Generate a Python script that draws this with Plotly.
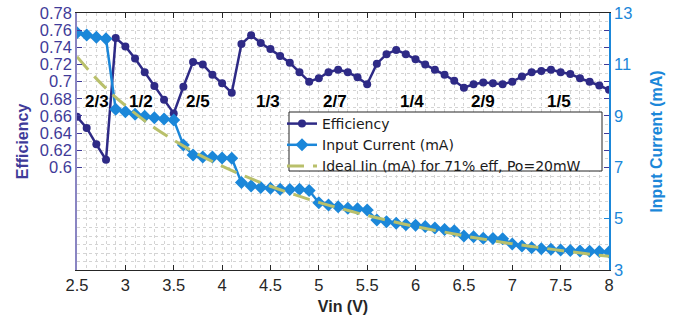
import plotly.graph_objects as go

vin = [round(2.5 + 0.1 * i, 1) for i in range(56)]

efficiency = [0.659, 0.646, 0.627, 0.609, 0.751, 0.741, 0.727, 0.711, 0.695, 0.679,
              0.663, 0.694, 0.723, 0.720, 0.708, 0.698, 0.687, 0.744, 0.754, 0.745,
              0.738, 0.730, 0.722, 0.711, 0.700, 0.704, 0.711, 0.714, 0.711, 0.705,
              0.697, 0.721, 0.732, 0.737, 0.732, 0.726, 0.720, 0.714, 0.708, 0.701,
              0.693, 0.697, 0.699, 0.698, 0.697, 0.700, 0.706, 0.711, 0.7125, 0.714,
              0.711, 0.709, 0.704, 0.700, 0.6955, 0.6905]

input_current = [12.23, 12.14, 12.06, 12.00, 9.25, 9.16, 9.06, 8.98, 8.92, 8.88,
                 8.84, 7.86, 7.47, 7.40, 7.40, 7.36, 7.35, 6.40, 6.27, 6.21,
                 6.18, 6.14, 6.13, 6.14, 6.09, 5.62, 5.53, 5.46, 5.40, 5.38,
                 5.33, 4.95, 4.88, 4.82, 4.76, 4.74, 4.69, 4.63, 4.58, 4.53,
                 4.32, 4.29, 4.24, 4.23, 4.22, 4.01, 3.93, 3.87, 3.83, 3.81,
                 3.78, 3.76, 3.74, 3.73, 3.72, 3.70]

ideal_vin = [2.5, 2.75, 3.0, 3.25, 3.5, 3.75, 4.0, 4.25, 4.5, 4.75, 5.0, 5.25,
             5.5, 5.75, 6.0, 6.25, 6.5, 6.75, 7.0, 7.25, 7.5, 7.75, 8.0]
ideal_current = [11.3, 10.25, 9.4, 8.67, 8.05, 7.51, 7.04, 6.63, 6.26, 5.93, 5.63, 5.37,
                 5.12, 4.90, 4.69, 4.51, 4.33, 4.17, 4.02, 3.89, 3.76, 3.64, 3.53]

ratio_labels = ["2/3", "1/2", "2/5", "1/3", "2/7", "1/4", "2/9", "1/5"]
ratio_x = [2.71, 3.16, 3.75, 4.47, 5.17, 5.96, 6.70, 7.48]
ratio_y = 0.6765

eff_ticks = [0.6, 0.62, 0.64, 0.66, 0.68, 0.7, 0.72, 0.74, 0.76, 0.78]
eff_tick_text = ["0.6", "0.62", "0.64", "0.66", "0.68", "0.7", "0.72", "0.74", "0.76", "0.78"]
cur_ticks = [3, 5, 7, 9, 11, 13]
x_ticks = [2.5, 3, 3.5, 4, 4.5, 5, 5.5, 6, 6.5, 7, 7.5, 8]
x_tick_text = ["2.5", "3", "3.5", "4", "4.5", "5", "5.5", "6", "6.5", "7", "7.5", "8"]

EFF_C = "#2e2a86"
CUR_C = "#1b87d9"
IDEAL_C = "#b9c06b"
LEFT_AX_C = "#3f3b99"
GRID_C = "#d4d4d4"
FONT = "Liberation Sans, Arial, Helvetica, sans-serif"
LEG_FONT = "DejaVu Sans, Liberation Sans, Arial, sans-serif"

W, H = 683, 325
PLOT_X0, PLOT_X1, PLOT_Y0, PLOT_Y1 = 77, 609, 13, 270   # plot area in pixels
L, T = PLOT_X0, PLOT_Y0
R, B = W - PLOT_X1, H - PLOT_Y1
PW, PH = PLOT_X1 - PLOT_X0, PLOT_Y1 - PLOT_Y0


def px_x(p):
    return (p - PLOT_X0) / PW


def px_y(p):
    return 1 - (p - PLOT_Y0) / PH


fig = go.Figure()

fig.add_trace(go.Scatter(
    x=vin, y=efficiency, yaxis="y", mode="lines+markers", name="Efficiency",
    line=dict(color=EFF_C, width=2.5),
    marker=dict(symbol="circle", size=8, color=EFF_C),
))
fig.add_trace(go.Scatter(
    x=vin, y=input_current, yaxis="y2", mode="lines+markers", name="Input Current (mA)",
    line=dict(color=CUR_C, width=2.5),
    marker=dict(symbol="diamond", size=10, color=CUR_C),
))
fig.add_trace(go.Scatter(
    x=ideal_vin, y=ideal_current, yaxis="y2", mode="lines",
    name="Ideal Iin (mA) for 71% eff, Po=20mW",
    line=dict(color=IDEAL_C, width=3, dash="17px,9px", shape="spline"),
))
# host for mirrored efficiency ticks on the right side
fig.add_trace(go.Scatter(x=[None], y=[None], yaxis="y3", showlegend=False, hoverinfo="skip"))

for lab, xv in zip(ratio_labels, ratio_x):
    fig.add_annotation(x=xv, y=ratio_y, xref="x", yref="y", text="<b>%s</b>" % lab,
                       showarrow=False, font=dict(size=17, color="black", family=FONT))

# legend frame
fig.add_shape(type="rect", xref="paper", yref="paper",
              x0=px_x(289), x1=px_x(602), y0=px_y(171), y1=px_y(112),
              line=dict(color="#262626", width=1), fillcolor="white", layer="above")

fig.update_layout(
    width=W, height=H,
    margin=dict(l=L, r=R, t=T, b=B, autoexpand=False),
    paper_bgcolor="white", plot_bgcolor="white",
    font=dict(family=FONT, size=16, color="#262626"),
    showlegend=True,
    legend=dict(
        x=px_x(282), y=px_y(108), xanchor="left", yanchor="top",
        bgcolor="rgba(0,0,0,0)", borderwidth=0,
        font=dict(size=14, color="#1a1a1a", family=LEG_FONT),
        traceorder="normal", tracegroupgap=0, itemwidth=30,
    ),
    xaxis=dict(
        range=[2.5, 8], tickmode="array", tickvals=x_ticks, ticktext=x_tick_text,
        ticks="inside", ticklen=5, tickcolor="#262626", showline=True, linecolor="#262626",
        linewidth=1, mirror="ticks", zeroline=False, automargin=False,
        showgrid=True, gridcolor=GRID_C, griddash="dot", gridwidth=1,
        minor=dict(dtick=0.1, tick0=2.5, showgrid=True, gridcolor=GRID_C, griddash="dot", gridwidth=1),
        tickfont=dict(size=16.5, color="#262626"),
        title=dict(text="<b>Vin (V)</b>", font=dict(size=16, color="#262626"), standoff=8),
    ),
    yaxis=dict(
        range=[0.4805, 0.78], tickmode="array", tickvals=eff_ticks, ticktext=eff_tick_text,
        ticks="inside", ticklen=5, tickcolor=LEFT_AX_C, showline=True, linecolor="#8a85c2",
        linewidth=1.5, zeroline=False, automargin=False,
        showgrid=True, gridcolor=GRID_C, griddash="dot", gridwidth=1,
        minor=dict(dtick=0.01, tick0=0.0, showgrid=True, gridcolor=GRID_C, griddash="dot", gridwidth=1),
        tickfont=dict(size=16.5, color=LEFT_AX_C),
        title=dict(text="<b>Efficiency</b>", font=dict(size=16, color=LEFT_AX_C), standoff=7),
    ),
    yaxis2=dict(
        range=[3, 13], tickmode="array", tickvals=cur_ticks, overlaying="y", side="right",
        ticks="inside", ticklen=5, tickcolor=CUR_C, showline=True, linecolor=CUR_C,
        linewidth=1.5, zeroline=False, showgrid=False, automargin=False,
        tickfont=dict(size=16.5, color=CUR_C),
        title=dict(text="<b>Input Current (mA)</b>", font=dict(size=16, color=CUR_C), standoff=19),
    ),
    yaxis3=dict(
        range=[0.4805, 0.78], tickmode="array", tickvals=eff_ticks, overlaying="y", side="right",
        ticks="inside", ticklen=5, tickcolor=LEFT_AX_C, showticklabels=False,
        showline=False, showgrid=False, zeroline=False, automargin=False,
    ),
)

# remove the default 8px page margin so the figure sits at the window corner
fig.write_html("out.html", config={"displayModeBar": False},
               post_script="document.body.style.margin='0px';")
